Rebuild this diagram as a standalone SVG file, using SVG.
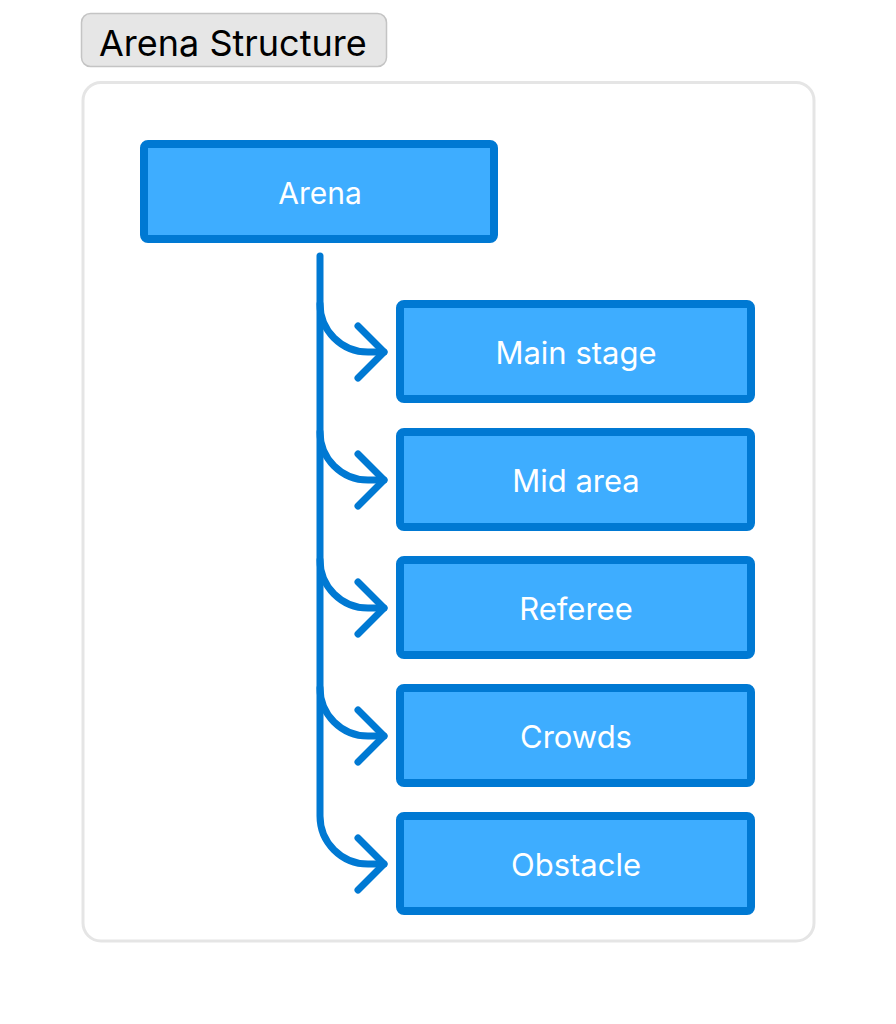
<svg xmlns="http://www.w3.org/2000/svg" width="896" height="1024" viewBox="0 0 896 1024">
<defs>
<style>
.title{font-family:Inter,"Liberation Sans",sans-serif;font-size:36px;fill:#000}
.node rect{fill:#3eadff;stroke:#0079d3;stroke-width:8}
.node text{font-family:Inter,"Liberation Sans",sans-serif;font-size:31px;fill:#fff;text-anchor:middle;dominant-baseline:central}
.edge{fill:none;stroke:#0079d3;stroke-width:7;stroke-linecap:round;stroke-linejoin:round}
</style>
</defs>
<rect width="896" height="1024" fill="#fff"/>
<g id="title">
<rect x="81.5" y="13.5" width="305" height="53" rx="9" fill="#e6e6e6" stroke="#c4c4c4" stroke-width="1.5"/>
<text class="title" x="99" y="56">Arena Structure</text>
</g>
<g id="container">
<rect x="83" y="82.5" width="731" height="858.5" rx="18" fill="#fff" stroke="#e5e5e5" stroke-width="3"/>
</g>
<g id="connectors">
<path class="edge" d="M320,256 L320,816 A48,48 0 0 0 368,864 L384,864"/>
<path class="edge" d="M320,304 A48,48 0 0 0 368,352 L384,352"/>
<path class="edge" d="M320,432 A48,48 0 0 0 368,480 L384,480"/>
<path class="edge" d="M320,560 A48,48 0 0 0 368,608 L384,608"/>
<path class="edge" d="M320,688 A48,48 0 0 0 368,736 L384,736"/>
<path class="edge" d="M358,326 L384,352 L358,378"/>
<path class="edge" d="M358,454 L384,480 L358,506"/>
<path class="edge" d="M358,582 L384,608 L358,634"/>
<path class="edge" d="M358,710 L384,736 L358,762"/>
<path class="edge" d="M358,838 L384,864 L358,890"/>
</g>
<g id="arena" class="node">
<rect x="144" y="144" width="350" height="95" rx="4"/>
<text x="320" y="192.5" style="font-size:30px">Arena</text>
</g>
<g id="main-stage" class="node">
<rect x="400" y="304" width="351" height="95" rx="4"/>
<text x="576" y="352">Main stage</text>
</g>
<g id="mid-area" class="node">
<rect x="400" y="432" width="351" height="95" rx="4"/>
<text x="576" y="480">Mid area</text>
</g>
<g id="referee" class="node">
<rect x="400" y="560" width="351" height="95" rx="4"/>
<text x="576" y="608">Referee</text>
</g>
<g id="crowds" class="node">
<rect x="400" y="688" width="351" height="95" rx="4"/>
<text x="576" y="736">Crowds</text>
</g>
<g id="obstacle" class="node">
<rect x="400" y="816" width="351" height="95" rx="4"/>
<text x="576" y="864">Obstacle</text>
</g>
</svg>
